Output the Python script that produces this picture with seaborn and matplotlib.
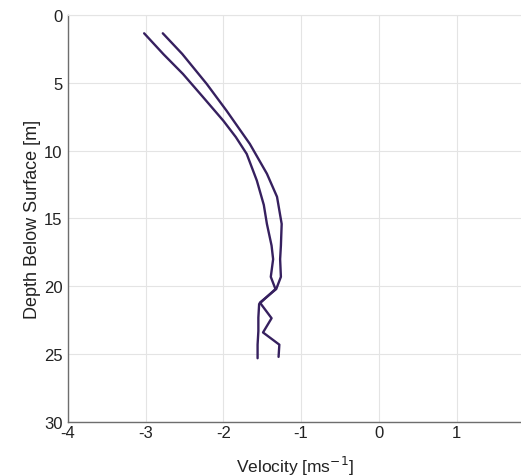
import numpy as np
import pandas as pd
import seaborn as sns
import matplotlib
matplotlib.use('Agg')
import matplotlib.pyplot as plt

# perfil 1 (linha da esquerda)
depth_a = [1.35, 2.9, 4.35, 6.0, 7.8, 9.0, 10.24, 12.2, 14.0, 15.4, 17.0, 18.0, 19.3, 20.2,
           21.3, 22.3, 23.3, 24.3, 25.3]
vel_a = [-3.02, -2.77, -2.52, -2.27, -2.00, -1.84, -1.70, -1.57, -1.48, -1.44, -1.38, -1.36,
         -1.39, -1.33, -1.54, -1.55, -1.55, -1.56, -1.56]

# perfil 2 (linha da direita)
depth_b = [1.35, 2.87, 5.08, 7.05, 9.5, 11.7, 13.4, 15.4, 17.0, 18.0, 19.3, 20.2,
           21.2, 22.35, 23.4, 24.3, 25.2]
vel_b = [-2.78, -2.53, -2.215, -1.96, -1.66, -1.44, -1.31, -1.25, -1.26, -1.27,
         -1.26, -1.32, -1.53, -1.38, -1.49, -1.28, -1.29]

x_ticks = [-4, -3, -2, -1, 0, 1]
y_ticks = [0, 5, 10, 15, 20, 25, 30]

sns.set_style('white')
plt.rcParams['font.family'] = ['Liberation Sans', 'DejaVu Sans']

fig = plt.figure(figsize=(5.21, 4.77), dpi=100)
ax = fig.add_axes([0.1305, 0.1132, 0.8695, 0.8533])

cor = '#36205f'
sns.lineplot(x=vel_a, y=depth_a, sort=False, estimator=None, color=cor, linewidth=1.7, ax=ax)
sns.lineplot(x=vel_b, y=depth_b, sort=False, estimator=None, color=cor, linewidth=1.7, ax=ax)

ax.set_xlim(-4, 1.83)
ax.set_ylim(30, 0)
ax.set_xticks(x_ticks)
ax.set_yticks(y_ticks)
ax.set_xticklabels([str(t) for t in x_ticks])
ax.grid(True, color='#e4e4e4', linewidth=0.8)
ax.set_axisbelow(True)

for s in ['left', 'bottom']:
    ax.spines[s].set_color('#6e6e6e')
    ax.spines[s].set_linewidth(1.0)
ax.spines['top'].set_color('#e4e4e4')
ax.spines['right'].set_visible(False)

ax.tick_params(direction='in', length=3.5, width=0.8, color='#6e6e6e',
               labelsize=12, labelcolor='#222222', pad=2)
ax.tick_params(axis='y', pad=4)

ax.set_xlabel('Velocity [ms$^{-1}$]', fontsize=12.5, color='#222222', labelpad=10)
ax.set_ylabel('Depth Below Surface [m]', fontsize=13, color='#222222', labelpad=2)

plt.savefig('out.png', dpi=100)
